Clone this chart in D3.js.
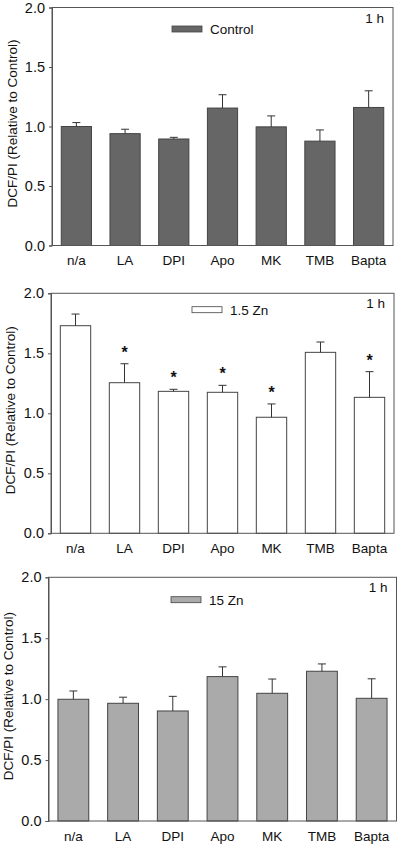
<!DOCTYPE html>
<html><head><meta charset="utf-8">
<script src="https://cdn.jsdelivr.net/npm/d3@7"></script>
<style>body{margin:0;background:#fff}svg{display:block}text{font-family:"Liberation Sans",Arial,sans-serif}</style>
</head><body>
<script>
const categories = ["n/a","LA","DPI","Apo","MK","TMB","Bapta"];
const yTicks = [0.0,0.5,1.0,1.5,2.0];
const seriesNames = ["Control","1.5 Zn","15 Zn"];
const controlValues = [1.00,0.94,0.895,1.155,0.997,0.877,1.16];
const controlErrors = [0.033,0.037,0.014,0.112,0.092,0.094,0.14];
const zn15Values = [1.73,1.255,1.183,1.175,0.967,1.508,1.133];
const zn15Errors = [0.097,0.158,0.017,0.058,0.111,0.086,0.214];
const zn15Signif = [false,true,true,true,true,false,true];
const zn150Values = [0.999,0.966,0.903,1.185,1.048,1.229,1.007];
const zn150Errors = [0.068,0.05,0.12,0.08,0.117,0.06,0.16];
const zn150Signif = [false,false,false,false,false,false,false];
const controlSignif = [false,false,false,false,false,false,false];
const timeLabel = "1 h";
const yTitle = "DCF/PI (Relative to Control)";

const W=400,H=845;
const svg=d3.select("body").append("svg").attr("width",W).attr("height",H);

const panels=[
 {name:seriesNames[0],vals:controlValues,errs:controlErrors,sig:controlSignif,fill:"#666666",
  l:52,r:393,t:7.5,b:245.5,titleX:12,legX:172,legY:26},
 {name:seriesNames[1],vals:zn15Values,errs:zn15Errors,sig:zn15Signif,fill:"#ffffff",
  l:51,r:394,t:293.3,b:533.3,titleX:10,legX:192,legY:306.7},
 {name:seriesNames[2],vals:zn150Values,errs:zn150Errors,sig:zn150Signif,fill:"#aaaaaa",
  l:48.5,r:396.5,t:577.3,b:821,titleX:8,legX:171,legY:596.7}
];

panels.forEach(p=>{
  const g=svg.append("g");
  const x=d3.scaleBand().domain(categories).range([p.l,p.r]).paddingInner(0.38).paddingOuter(0.19);
  const y=d3.scaleLinear().domain([0,2]).range([p.b,p.t]);
  g.selectAll("rect.bar").data(p.vals).join("rect")
    .attr("x",(d,i)=>x(categories[i])).attr("width",x.bandwidth())
    .attr("y",d=>y(d)).attr("height",d=>y(0)-y(d))
    .attr("fill",p.fill).attr("stroke","#444").attr("stroke-width",1);
  p.vals.forEach((v,i)=>{
    const cx=x(categories[i])+x.bandwidth()/2;
    g.append("line").attr("x1",cx).attr("x2",cx).attr("y1",y(v)).attr("y2",y(v+p.errs[i]))
      .attr("stroke","#333").attr("stroke-width",1);
    g.append("line").attr("x1",cx-4).attr("x2",cx+4).attr("y1",y(v+p.errs[i])).attr("y2",y(v+p.errs[i]))
      .attr("stroke","#333").attr("stroke-width",1);
    if(p.sig[i]) g.append("text").attr("x",cx).attr("y",y(v+p.errs[i])-6)
      .attr("text-anchor","middle").attr("font-size",16).attr("font-weight","bold").attr("fill","#111").text("*");
  });
  g.append("rect").attr("x",p.l).attr("y",p.t).attr("width",p.r-p.l).attr("height",p.b-p.t)
    .attr("fill","none").attr("stroke","#555").attr("stroke-width",1);
  const ya=g.append("g").attr("transform",`translate(${p.l},0)`)
    .call(d3.axisLeft(y).tickValues(yTicks).tickFormat(d3.format(".1f")).tickSize(3).tickPadding(4));
  ya.select(".domain").attr("stroke","#555");
  ya.selectAll(".tick line").attr("stroke","#555");
  ya.selectAll("text").attr("font-size",14.5).attr("fill","#111").attr("font-family","Liberation Sans, Arial, sans-serif");
  const xa=g.append("g").attr("transform",`translate(0,${p.b})`)
    .call(d3.axisBottom(x).tickSize(0).tickPadding(10));
  xa.select(".domain").remove();
  xa.selectAll("text").attr("font-size",13.5).attr("fill","#111").attr("font-family","Liberation Sans, Arial, sans-serif");
  g.append("text").attr("transform",`translate(${p.titleX+5},${(p.t+p.b)/2-3}) rotate(-90)`)
    .attr("text-anchor","middle").attr("font-size",13.5).attr("fill","#111").text(yTitle);
  g.append("rect").attr("x",p.legX).attr("y",p.legY).attr("width",30).attr("height",6)
    .attr("fill",p.fill).attr("stroke","#444").attr("stroke-width",0.8);
  g.append("text").attr("x",p.legX+38).attr("y",p.legY+8).attr("font-size",13.5).attr("fill","#111").text(p.name);
  g.append("text").attr("x",p.r-9).attr("y",p.t+15).attr("text-anchor","end").attr("font-size",13.5).attr("fill","#111").text(timeLabel);
});
</script>
</body></html>
